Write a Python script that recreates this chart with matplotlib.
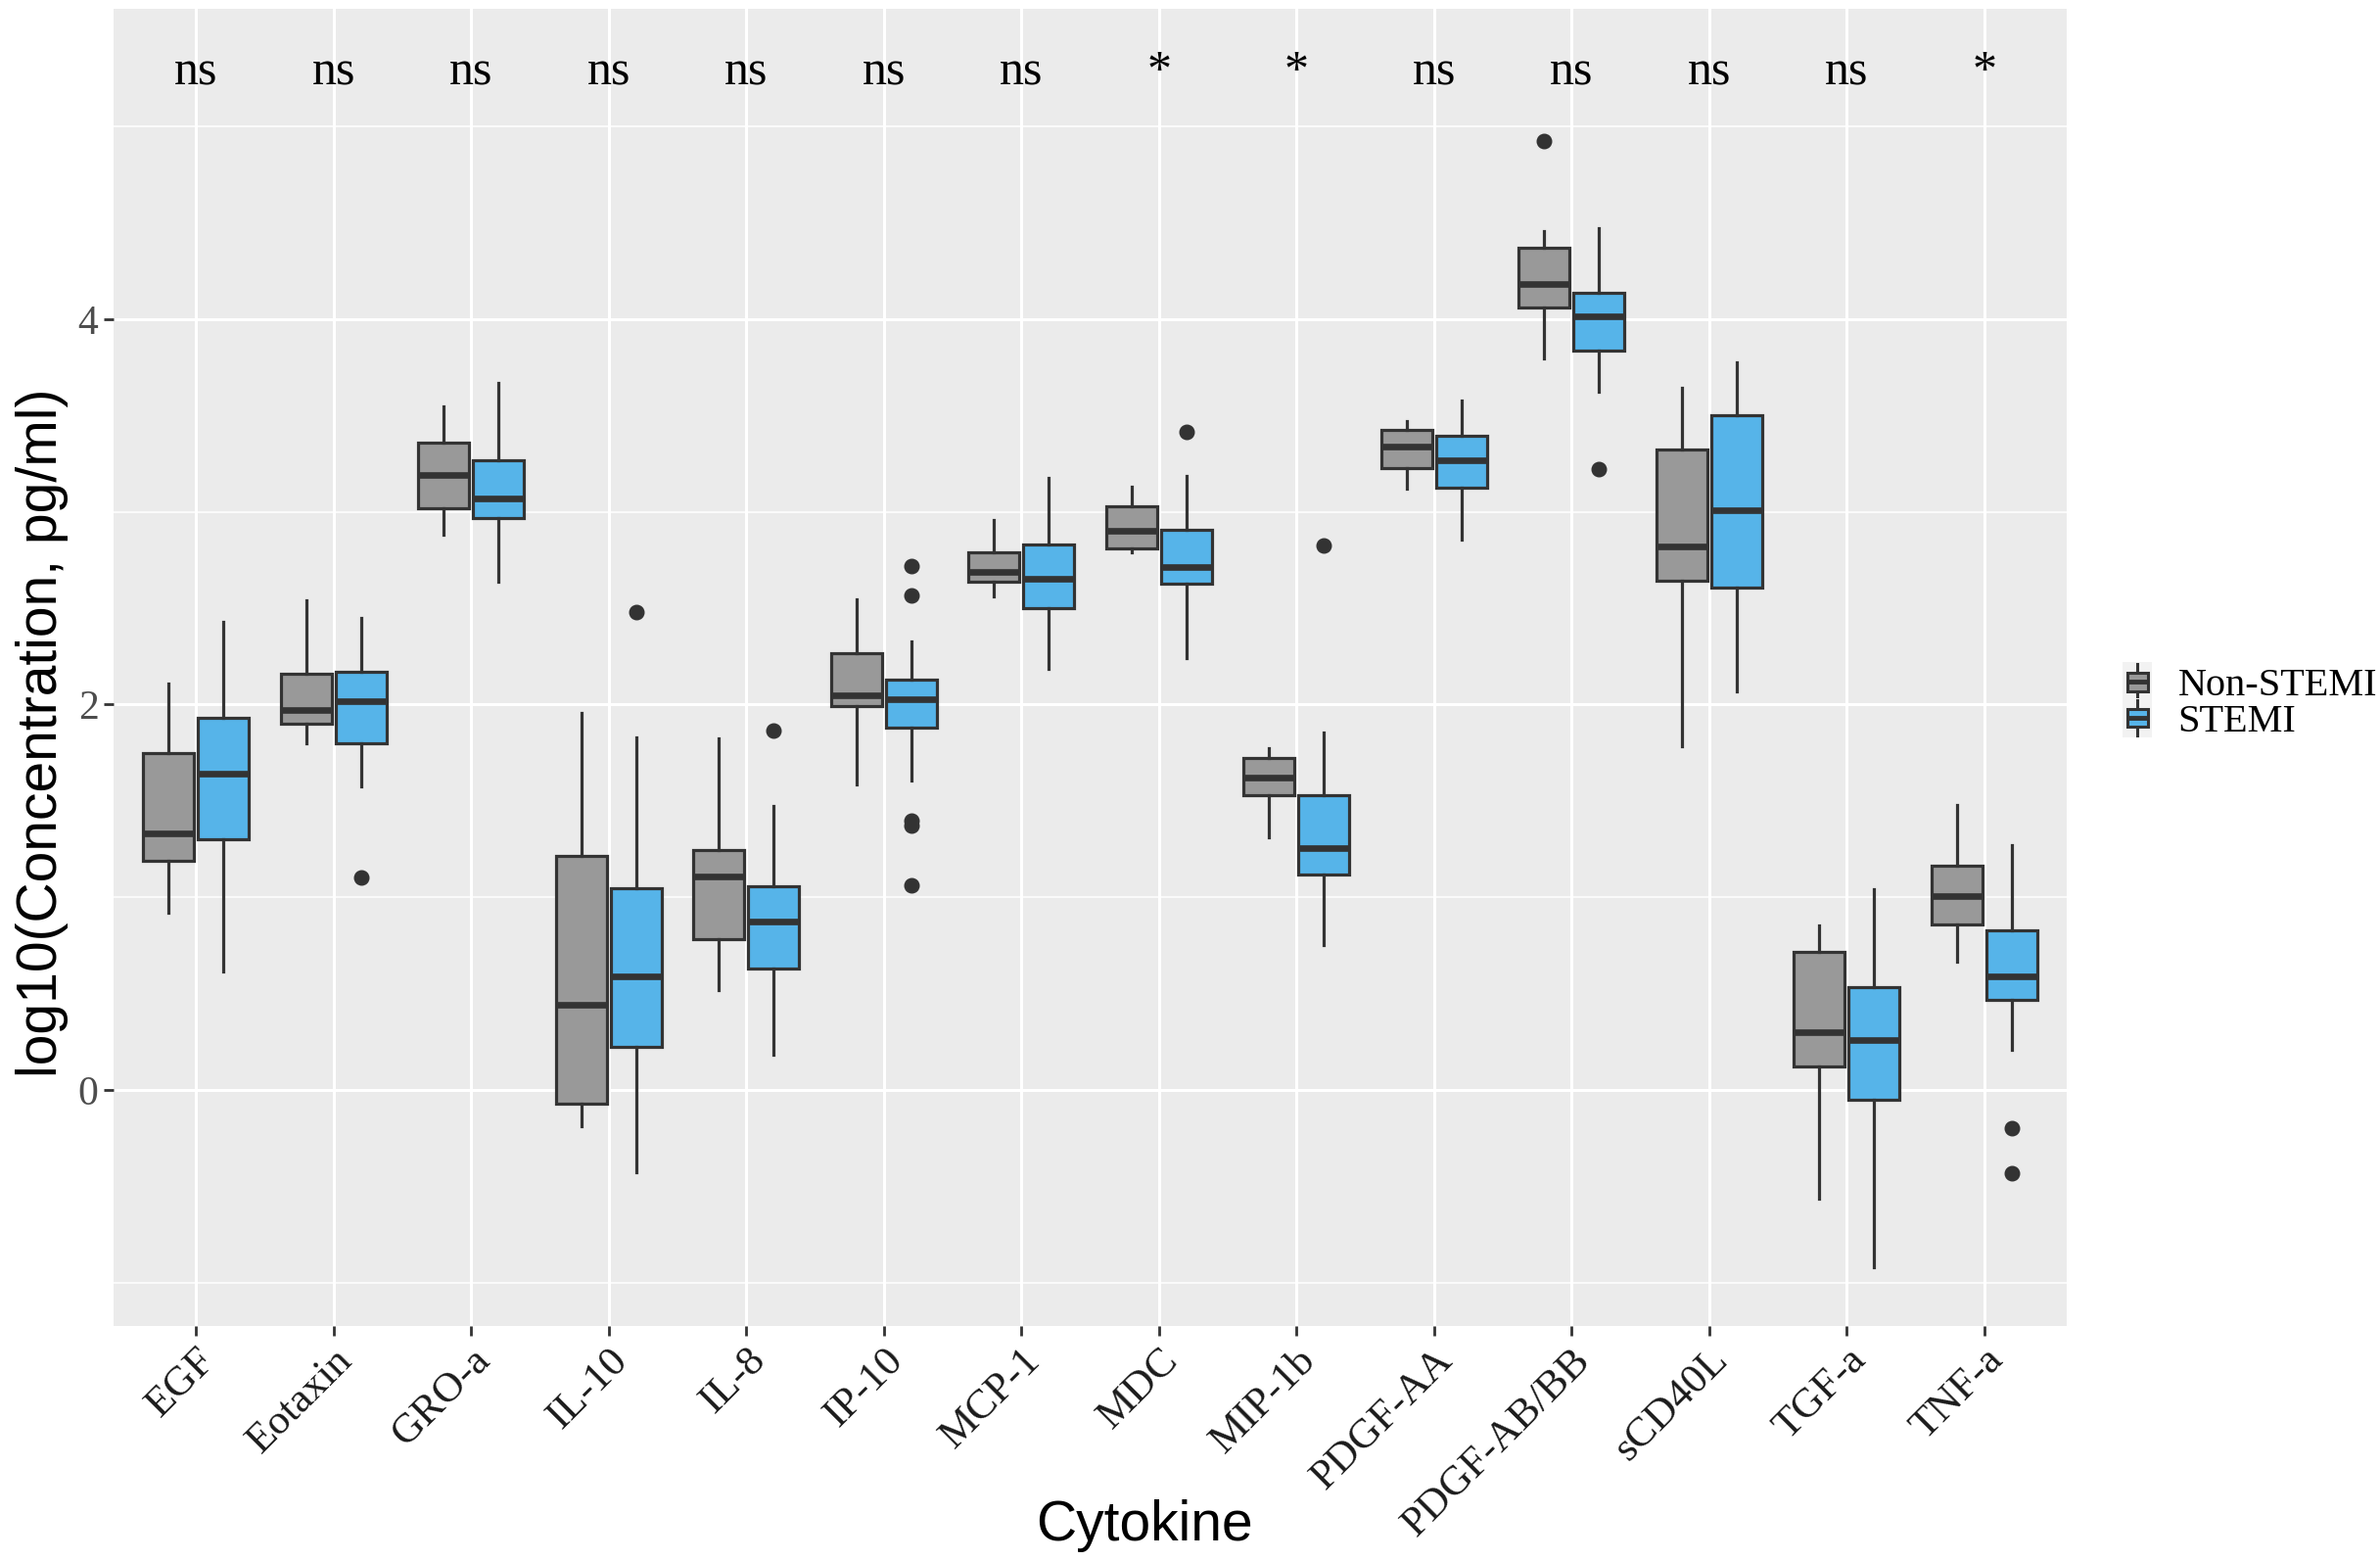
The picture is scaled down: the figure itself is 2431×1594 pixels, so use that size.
import numpy as np
import matplotlib
matplotlib.use('Agg')
from matplotlib import pyplot as plt
from matplotlib.legend_handler import HandlerBase
from matplotlib.patches import Rectangle, Patch
from matplotlib.lines import Line2D

cytokines = ['EGF', 'Eotaxin', 'GRO-a', 'IL-10', 'IL-8', 'IP-10', 'MCP-1', 'MDC',
             'MIP-1b', 'PDGF-AA', 'PDGF-AB/BB', 'sCD40L', 'TGF-a', 'TNF-a']
signif = ['ns', 'ns', 'ns', 'ns', 'ns', 'ns', 'ns', '*', '*', 'ns', 'ns', 'ns', 'ns', '*']
groups = ['Non-STEMI', 'STEMI']
colors = ['#999999', '#56B4E9']

# Non-STEMI: whisker low, Q1, median, Q3, whisker high, outliers
ns_lo = [0.92, 1.80, 2.88, -0.19, 0.52, 1.585, 2.563, 2.79, 1.311, 3.12, 3.794, 1.784, -0.566, 0.664]
ns_q1 = [1.19, 1.90, 3.02, -0.07, 0.785, 1.99, 2.64, 2.813, 1.532, 3.229, 4.063, 2.644, 0.12, 0.858]
ns_med = [1.33, 1.97, 3.19, 0.44, 1.11, 2.05, 2.69, 2.90, 1.62, 3.339, 4.181, 2.82, 0.298, 1.005]
ns_q3 = [1.75, 2.16, 3.36, 1.215, 1.243, 2.265, 2.79, 3.027, 1.723, 3.423, 4.371, 3.326, 0.719, 1.165]
ns_hi = [2.11, 2.54, 3.55, 1.955, 1.826, 2.545, 2.96, 3.13, 1.775, 3.473, 4.459, 3.642, 0.853, 1.481]
ns_out = [[], [], [], [], [], [], [], [], [], [], [4.927], [], [], []]

# STEMI
st_lo = [0.615, 1.575, 2.64, -0.425, 0.182, 1.605, 2.187, 2.239, 0.753, 2.858, 3.625, 2.067, -0.92, 0.209]
st_q1 = [1.30, 1.80, 2.97, 0.223, 0.628, 1.88, 2.50, 2.628, 1.117, 3.124, 3.836, 2.606, -0.052, 0.466]
st_med = [1.64, 2.02, 3.07, 0.59, 0.874, 2.03, 2.654, 2.712, 1.256, 3.267, 4.013, 3.01, 0.26, 0.588]
st_q3 = [1.93, 2.17, 3.27, 1.045, 1.057, 2.13, 2.83, 2.907, 1.532, 3.393, 4.135, 3.503, 0.533, 0.828]
st_hi = [2.43, 2.45, 3.67, 1.83, 1.474, 2.33, 3.176, 3.186, 1.856, 3.579, 4.472, 3.777, 1.043, 1.27]
st_out = [[], [1.105], [], [2.48], [1.866], [2.72, 2.566, 1.40, 1.37, 1.06], [], [3.416], [2.826],
          [], [3.221], [], [], [-0.2, -0.432]]


def make_stats(lo, q1, med, q3, hi, out):
    return [dict(whislo=a, q1=b, med=c, q3=d, whishi=e, fliers=f)
            for a, b, c, d, e, f in zip(lo, q1, med, q3, hi, out)]


class BoxKey(HandlerBase):
    def create_artists(self, legend, orig_handle, xdescent, ydescent, width, height, fontsize, trans):
        x0, y0 = -xdescent, -ydescent
        bg = Rectangle((x0, y0), width, height, facecolor='#F2F2F2', edgecolor='none', transform=trans)
        cx = x0 + width / 2
        wl = Line2D([cx, cx], [y0 + 0.05 * height, y0 + 0.95 * height], color='#333333', lw=2.2, transform=trans)
        box = Rectangle((x0 + 0.15 * width, y0 + 0.27 * height), 0.7 * width, 0.46 * height,
                        facecolor=orig_handle.get_facecolor(), edgecolor='#333333', lw=2.2, transform=trans)
        med = Line2D([x0 + 0.15 * width, x0 + 0.85 * width], [y0 + height / 2] * 2, color='#333333',
                     lw=3.5, solid_capstyle='butt', transform=trans)
        return [bg, wl, box, med]


fig = plt.figure(figsize=(24.31, 15.94), dpi=100)
ax = fig.add_axes([116 / 2431, 1 - 1354 / 1594, 1995 / 2431, 1345 / 1594])
ax.set_facecolor('#EBEBEB')
for s in ax.spines.values():
    s.set_visible(False)

x = np.arange(1, len(cytokines) + 1)
all_stats = [make_stats(ns_lo, ns_q1, ns_med, ns_q3, ns_hi, ns_out),
             make_stats(st_lo, st_q1, st_med, st_q3, st_hi, st_out)]
offsets = [-0.2, 0.2]
for stats, off, col in zip(all_stats, offsets, colors):
    ax.bxp(stats, positions=x + off, widths=0.37, patch_artist=True, showcaps=False,
           boxprops=dict(facecolor=col, edgecolor='#333333', linewidth=2.3),
           medianprops=dict(color='#333333', linewidth=4.8, solid_capstyle='butt'),
           whiskerprops=dict(color='#333333', linewidth=2.3),
           flierprops=dict(marker='o', markerfacecolor='#333333', markeredgecolor='#333333', markersize=10.5),
           manage_ticks=False, zorder=3)

for xi, s in zip(x, signif):
    ax.text(xi, 5.28, s, ha='center', va='center', fontsize=36, family='Liberation Serif', color='black')

ax.set_xlim(0.4, len(cytokines) + 0.6)
ax.set_ylim(-1.225, 5.611)
ax.set_xticks(x)
ax.set_xticklabels(cytokines, rotation=45, ha='right', va='top', rotation_mode='anchor',
                   fontsize=31, family='Liberation Serif', color='#1a1a1a')
ax.set_yticks([0, 2, 4])
ax.set_yticklabels(['0', '2', '4'], fontsize=30, family='Liberation Serif', color='#4D4D4D')
ax.set_yticks([-1, 1, 3, 5], minor=True)
ax.tick_params(axis='both', which='major', length=7.2, width=2, color='#333333', pad=4)
ax.tick_params(axis='y', which='minor', length=0)
ax.set_axisbelow(True)
ax.grid(which='major', color='white', linewidth=2.2)
ax.grid(which='minor', axis='y', color='white', linewidth=1.1)

ax.set_xlabel('Cytokine', fontsize=41, family='Liberation Sans')
ax.xaxis.label.set_va('center')
ax.xaxis.set_label_coords(0.528, -0.152)
ax.set_ylabel('log10(Concentration, pg/ml)', fontsize=41, family='Liberation Sans')
ax.yaxis.label.set_va('center')
ax.yaxis.set_label_coords(-0.0368, 0.4506)

handles = [Patch(facecolor=c) for c in colors]
leg = fig.legend(handles, groups, handler_map={Patch: BoxKey()}, loc='center left',
                 bbox_to_anchor=(2168 / 2431, 1 - 716 / 1594), bbox_transform=fig.transFigure,
                 frameon=False, borderpad=0, borderaxespad=0, handlelength=0.75, handleheight=1.15,
                 handletextpad=0.65, labelspacing=-0.15,
                 prop={'family': 'Liberation Serif', 'size': 29})

fig.savefig('out.png', dpi=100, facecolor='white')
